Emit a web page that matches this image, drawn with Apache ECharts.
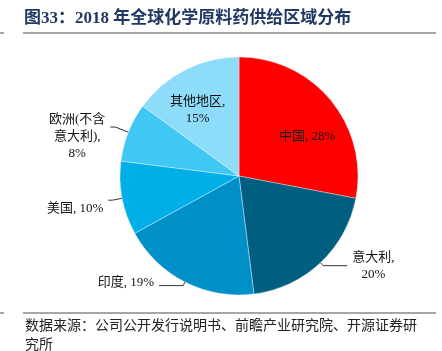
<!DOCTYPE html>
<html>
<head>
<meta charset="utf-8">
<script src="https://cdn.jsdelivr.net/npm/echarts@6/dist/echarts.min.js"></script>
<style>
  html, body { margin: 0; padding: 0; background: #fff; }
  #c { width: 442px; height: 351px; }
</style>
</head>
<body>
<div id="c"></div>
<script>
(() => {
  "use strict";
  // 2018 global API supply by region
  const regions = ["中国", "意大利", "印度", "美国", "欧洲(不含意大利)", "其他地区"];
  const shares = [28, 20, 19, 10, 8, 15];
  const labelLines = [["中国, 28%"], ["意大利,", "20%"], ["印度, 19%"], ["美国, 10%"], ["欧洲(不含", "意大利),", "8%"], ["其他地区,", "15%"]];

  const COLORS = ["#ff0000", "#005f80", "#0090c8", "#00aee8", "#40c8f4", "#8cdcfa"];
  const FONT = "'Liberation Serif', 'Noto Sans CJK SC', serif";
  // label placement per slice: inside/outside + nudge
  const LBL = [
    { pos: "inside", dx: 20, dy: 0 },
    { pos: "outside", dx: 0, dy: 0, len: 4, len2: 24 },
    { pos: "outside", dx: 0, dy: -3, len: 4, len2: 24 },
    { pos: "outside", dx: 0, dy: 8, len: 10, len2: 4 },
    { pos: "outside", dx: 0, dy: 10, len: 14, len2: 5 },
    { pos: "inside", dx: -13, dy: -10 },
  ];

  const chart = echarts.init(document.getElementById("c"));
  chart.setOption({
    animation: false,
    graphic: [
      { type: "text", left: 24, top: 10, style: { text: "图33：2018 年全球化学原料药供给区域分布", font: "bold 17px " + FONT, fill: "#1f3864" } },
      { type: "line", shape: { x1: 23, y1: 33, x2: 436, y2: 33 }, style: { stroke: "#888", lineWidth: 1.5 } },
      { type: "line", shape: { x1: 0, y1: 33, x2: 4, y2: 33 }, style: { stroke: "#888", lineWidth: 1.5 } },
      { type: "line", shape: { x1: 23, y1: 313, x2: 436, y2: 313 }, style: { stroke: "#888", lineWidth: 1.5 } },
      { type: "line", shape: { x1: 0, y1: 313, x2: 4, y2: 313 }, style: { stroke: "#888", lineWidth: 1.5 } },
      { type: "text", left: 25, top: 317, style: { text: "数据来源：公司公开发行说明书、前瞻产业研究院、开源证券研\n究所", font: "14px " + FONT, fill: "#222", lineHeight: 19 } },
    ],
    series: [{
      type: "pie",
      center: [239, 176],
      radius: [0, 119],
      startAngle: 90,
      clockwise: true,
      avoidLabelOverlap: false,
      itemStyle: { borderColor: "rgba(255,255,255,0.6)", borderWidth: 0.6 },
      labelLine: { lineStyle: { color: "#333", width: 1 } },
      labelLayout: p => ({ dx: LBL[p.dataIndex].dx, dy: LBL[p.dataIndex].dy }),
      data: regions.map((n, i) => ({
        name: n,
        value: shares[i],
        itemStyle: { color: COLORS[i] },
        label: {
          show: true,
          position: LBL[i].pos,
          formatter: labelLines[i].map(s => `{t|${s}}`).join("\n"),
          rich: { t: { fontFamily: FONT, fontSize: 13, color: "#111", lineHeight: 17, align: "center" } },
        },
        labelLine: LBL[i].pos === "outside" ? { show: true, length: LBL[i].len, length2: LBL[i].len2 } : { show: false },
      })),
    }],
  });
})();
</script>
</body>
</html>
